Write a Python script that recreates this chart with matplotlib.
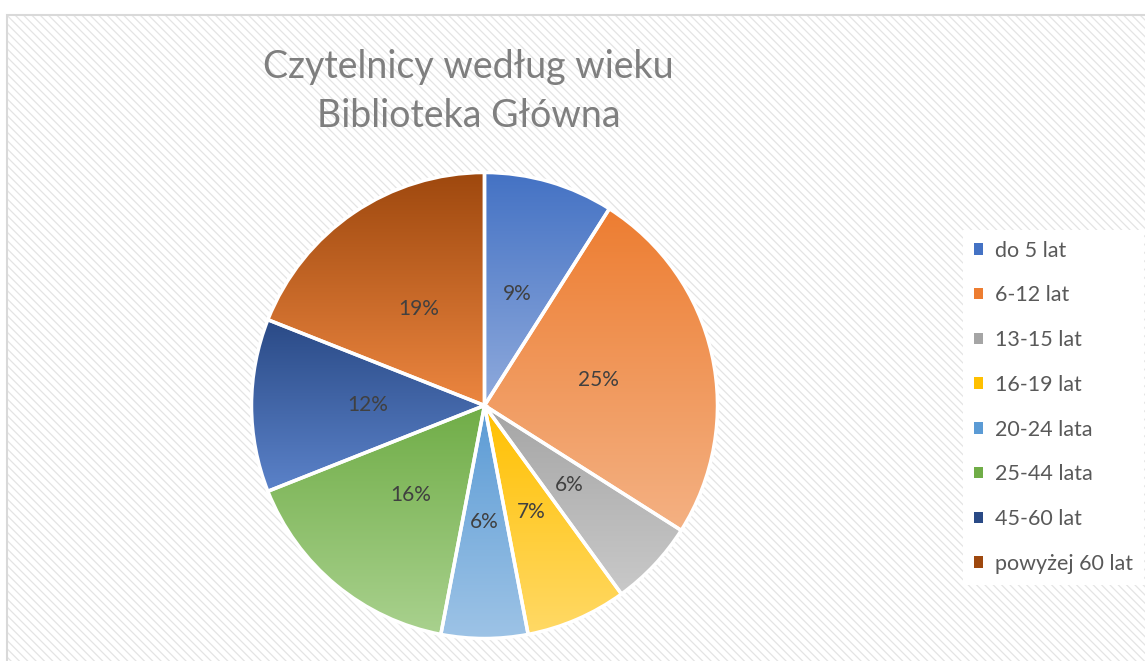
import matplotlib as mpl
import matplotlib.pyplot as plt
import numpy as np
from matplotlib.colors import to_rgb
from matplotlib.patches import Patch, Rectangle

mpl.rcParams['hatch.linewidth'] = 0.9
mpl.rcParams['font.family'] = ['Lato', 'DejaVu Sans']

labels = ['do 5 lat', '6-12 lat', '13-15 lat', '16-19 lat',
          '20-24 lata', '25-44 lata', '45-60 lat', 'powyżej 60 lat']
shares = [9, 25, 6, 7, 6, 16, 12, 19]
title_lines = ['Czytelnicy według wieku', 'Biblioteka Główna']

# gradient colours per slice: top of slice -> bottom of slice
top_colors = ['#4472C4', '#ED7D31', '#A5A5A5', '#FFC000',
              '#5B9BD5', '#70AD47', '#2A4A86', '#9E480E']
bottom_colors = ['#8FAADC', '#F4B183', '#C9C9C9', '#FFD966',
                 '#9DC3E6', '#A9D18E', '#5B82C9', '#EC8640']

W, H = 1145, 661
fig = plt.figure(figsize=(W / 100, H / 100), dpi=100)
fig.patch.set_facecolor('white')

# hatched chart area with light border
area = ((7 / W, -0.01), 1.0, 1 - 15 / H + 0.01)
fig.add_artist(Rectangle(*area, transform=fig.transFigure, facecolor='white',
                         edgecolor='#E4E4E4', hatch='\\\\\\\\', lw=0, zorder=-10))
fig.add_artist(Rectangle(*area, transform=fig.transFigure, facecolor='none',
                         edgecolor='#D9D9D9', lw=1.5, zorder=-9))

cx, cy, r = 484.5, 405.5, 233
ax = fig.add_axes([(cx - r) / W, (H - cy - r) / H, 2 * r / W, 2 * r / H])
ax.set_facecolor('none')

wedges, texts, autotexts = ax.pie(
    shares, startangle=90, counterclock=False,
    autopct=lambda p: '%.0f%%' % p, pctdistance=0.5,
    wedgeprops=dict(edgecolor='white', linewidth=2.5, facecolor='none'),
    textprops=dict(color='#404040', fontsize=15))

for w, c0, c1 in zip(wedges, top_colors, bottom_colors):
    ext = w.get_path().get_extents()
    t = np.linspace(0, 1, 256)[:, None]
    grad = (1 - t) * np.array(to_rgb(c0)) + t * np.array(to_rgb(c1))
    im = ax.imshow(grad[:, None, :], extent=(ext.x0, ext.x1, ext.y0, ext.y1),
                   origin='upper', aspect='auto', zorder=1, interpolation='bilinear')
    im.set_clip_path(w)
    w.set_zorder(2)

for t in autotexts:
    t.set_zorder(3)

ax.set_xlim(-1, 1)
ax.set_ylim(-1, 1)
ax.axis('off')

fig.text(468 / W, 1 - 78 / H, title_lines[0], ha='center', va='baseline',
         fontsize=27, color='#7F7F7F')
fig.text(469 / W, 1 - 127 / H, title_lines[1], ha='center', va='baseline',
         fontsize=27, color='#7F7F7F')

handles = [Patch(facecolor=c, edgecolor='none') for c in top_colors]
leg = fig.legend(handles, labels, loc='upper left',
                 bbox_to_anchor=(952 / W, 1 - 219 / H),
                 frameon=True, facecolor='white', edgecolor='none', framealpha=1,
                 fontsize=15.5, labelcolor='#595959', handlelength=0.45,
                 handleheight=0.45, handletextpad=0.55, labelspacing=1.15,
                 borderpad=0.5, fancybox=False)

fig.savefig('out.png', dpi=100)
